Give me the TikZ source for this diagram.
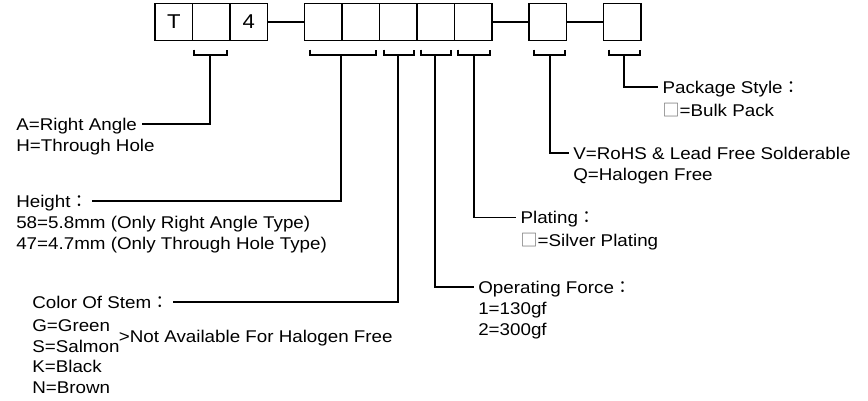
\documentclass[tikz,border=0pt]{standalone}
\usepackage{fontspec}
\setmainfont{Liberation Sans}[FakeStretch=1.105]
\newfontfamily\cjk{Noto Sans CJK TC}
\newcommand\wcolon{{\cjk ：}}
\newcommand\wbox{{\color{black!60}\cjk □}}
\usetikzlibrary{positioning}

\tikzset{
  cell/.style={draw, minimum width=37.5pt, minimum height=37.5pt,
    inner sep=0pt, outer sep=0pt, font=\fontsize{20}{24}\selectfont},
  lbl/.style={font=\fontsize{17}{21}\selectfont, inner xsep=4pt, inner ysep=0pt,
    text height=15.2pt, text depth=3pt, anchor=west},
}

\begin{document}
\begin{tikzpicture}[x=1pt,y=-1pt,line width=1.2pt]
\useasboundingbox (0,0) rectangle (868,400);

% Part number fields
\node[cell] (c1) at (173.8,22) {T};
\node[cell,right=0pt of c1] (c2) {};
\node[cell,right=0pt of c2] (c3) {4};
\node[cell,right=37pt of c3] (c4) {};
\node[cell,right=0pt of c4] (c5) {};
\node[cell,right=0pt of c5] (c6) {};
\node[cell,right=0pt of c6] (c7) {};
\node[cell,right=0pt of c7] (c8) {};
\node[cell,right=37pt of c8] (c9) {};
\node[cell,right=37pt of c9] (c10) {};

\draw (c3) -- (c4);
\draw (c8) -- (c9);
\draw (c9) -- (c10);

% Brackets under the fields
\foreach \l/\m/\r/\n in {194/210/227/bT, 310/341/376/bH, 384/398/414/bC,
    421/435/451/bO, 458/474/490/bP, 534/550/565/bV, 609/624/640/bS}{
  \draw (\l,49.5) |- (\r,55) -- (\r,49.5);
  \coordinate (\n) at (\m,55);
}

% Type
\node[lbl] (typeA) at (11.7,124) {A=Right Angle};
\node[lbl] (typeH) at (11.7,145) {H=Through Hole};

% Height
\node[lbl] (hgtT) at (11.7,201) {Height\wcolon};
\node[lbl] (hgt1) at (11.7,222) {58=5.8mm (Only Right Angle Type)};
\node[lbl] (hgt2) at (11.7,243) {47=4.7mm (Only Through Hole Type)};

% Color of stem
\node[lbl] (colT) at (27.7,302) {Color Of Stem\wcolon};
\foreach \t/\y [count=\i] in {G=Green/325, S=Salmon/346, K=Black/366, N=Brown/387}
  \node[lbl] (col\i) at (27.7,\y) {\t};
\node[lbl] (colNote) at (114.3,336) {>Not Available For Halogen Free};

% Operating force
\node[lbl] (opT) at (473.7,287) {Operating Force\wcolon};
\node[lbl] (op1) at (473.7,308) {1=130gf};
\node[lbl] (op2) at (473.7,329) {2=300gf};

% Plating
\node[lbl] (pltT) at (516,217.7) {Plating\wcolon};
\node[lbl] (plt1) at (516,240) {\wbox=Silver Plating};

% RoHS / halogen
\node[lbl] (vqT) at (568.7,153) {V=RoHS \& Lead Free Solderable};
\node[lbl] (vq1) at (568.7,174) {Q=Halogen Free};

% Package style
\node[lbl] (pkgT) at (658,87) {Package Style\wcolon};
\node[lbl] (pkg1) at (658,110) {\wbox=Bulk Pack};

% Leaders from the brackets to the texts
\draw (bT) |- (typeA.east);
\draw (bH) |- (hgtT.east);
\draw (bC) |- (colT.east);
\draw (bO) |- (opT.west);
\draw (bP) |- (pltT.west);
\draw (bV) |- (vqT.west);
\draw (bS) |- (pkgT.west);

\end{tikzpicture}
\end{document}
